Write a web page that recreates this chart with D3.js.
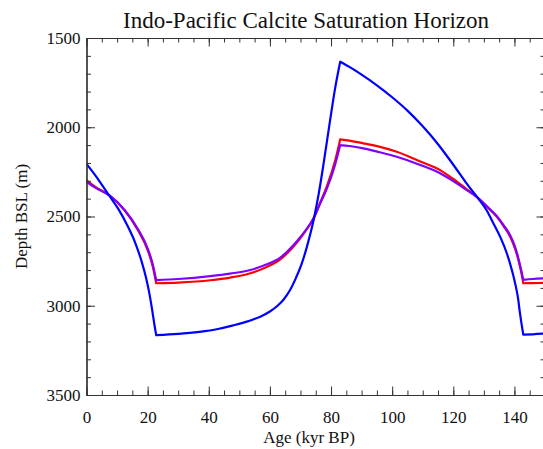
<!DOCTYPE html>
<html><head><meta charset="utf-8">
<script src="https://cdn.jsdelivr.net/npm/d3@7"></script>
<style>body{margin:0;background:#fff}svg{display:block}</style>
</head><body>
<svg id="c" width="543" height="449"></svg>
<script>
const title = "Indo-Pacific Calcite Saturation Horizon";
const xLabel = "Age (kyr BP)";
const yLabel = "Depth BSL (m)";
const xTicks = [0,20,40,60,80,100,120,140];
const yTicks = [1500,2000,2500,3000,3500];

const blueSeries = [[0,2205],[3,2272],[7.5,2385],[10.5,2460],[13.5,2555],[16,2650],[18,2750],[19.5,2845],[20.5,2925],[21.5,3025],[22.3,3115],[22.8,3165],
[30,3158],[37,3146],[43,3130],[48,3110],[53,3086],[57,3060],[60,3032],[62.5,3000],[64.5,2965],[66.5,2915],[68.5,2845],[70.5,2760],[72.5,2645],[74.3,2520],[76,2370],[77.6,2200],[79.7,1960],[81.4,1775],[83,1633],
[86,1662],[90,1705],[95,1765],[100,1832],[105,1907],[110,1995],[115,2095],[120,2210],[125,2330],[128.2,2400],[131,2468],[133.1,2538],[135.5,2620],[137.5,2706],[139,2790],[140.2,2872],[141.2,2960],[141.8,3040],[142.4,3110],[142.9,3162],[146,3160],[150,3156]];

const redSeries = [[0,2298],[3,2335],[7.5,2382],[12.4,2464],[16.8,2576],[20,2688],[21.7,2781],[22.8,2874],
[30,2870],[40.5,2857],[47,2842],[53.6,2818],[58,2790],[63.4,2740],[68.9,2645],[71.5,2585],[74.3,2510],[76.5,2420],[78.6,2333],[81.4,2183],[83,2068],
[86,2075],[90.6,2090],[96,2110],[101.5,2137],[109.2,2192],[115.7,2240],[120,2290],[124,2342],[128.2,2398],[131,2445],[134.2,2501],[136.5,2555],[138.6,2613],[140.2,2680],[141.3,2744],[142.2,2810],[142.9,2874],[146,2873],[150,2872]];

const purpleSeries = [[0,2305],[3,2340],[7.5,2382],[12.4,2462],[16.8,2570],[20,2678],[21.7,2770],[22.8,2856],
[30,2850],[40.5,2834],[47,2820],[53.6,2800],[58,2775],[63.4,2730],[68.9,2637],[71.5,2582],[74.3,2510],[76.5,2425],[78.6,2345],[81.4,2205],[83,2100],
[86,2105],[90.6,2118],[96,2140],[101.5,2165],[109.2,2211],[115.7,2258],[120,2302],[124,2348],[128.2,2398],[131,2443],[134.2,2497],[136.5,2550],[138.6,2605],[140.2,2670],[141.3,2735],[142.2,2800],[142.9,2855],[146,2850],[150,2846]];

// ages where the curves have sharp corners
const cornerAges = [22.8, 83, 142.9];

const seriesList = [
  {data: redSeries, color: "#ff0000"},
  {data: purpleSeries, color: "#8000ff"},
  {data: blueSeries, color: "#0000ff"}
];

const L = 86.5, R = 545, T = 38, B = 395;
const x = d3.scaleLinear().domain([0,150]).range([L,R]);
const y = d3.scaleLinear().domain([1500,3500]).range([T,B]);
const svg = d3.select("#c");
const font = "'Liberation Serif','Times New Roman',serif";

svg.append("clipPath").attr("id","clp").append("rect")
  .attr("x",L).attr("y",T).attr("width",R-L).attr("height",B-T);

const line = d3.line().x(d=>x(d[0])).y(d=>y(d[1])).curve(d3.curveMonotoneX);
const g = svg.append("g").attr("clip-path","url(#clp)");
function splitAtCorners(data){
  const segs = [];
  let cur = [];
  data.forEach(p=>{
    cur.push(p);
    if (cornerAges.includes(p[0])) { segs.push(cur); cur = [p]; }
  });
  if (cur.length > 1) segs.push(cur);
  return segs;
}
seriesList.forEach(s=>{
  const d = splitAtCorners(s.data).map(seg=>line(seg)).join("");
  g.append("path").attr("d",d).attr("fill","none")
   .attr("stroke",s.color).attr("stroke-width",2.2)
   .attr("stroke-linecap","round").attr("stroke-linejoin","round");
});

const xMinor = d3.range(0,151,5);
const yMinor = d3.range(1500,3501,100);
const axisColor = "#333";
function styleAxis(sel){
  sel.select(".domain").attr("stroke",axisColor).attr("stroke-width",1.2);
  sel.selectAll(".tick line").attr("stroke",axisColor);
  sel.selectAll("text").attr("font-family",font).attr("font-size",17).attr("fill","#111");
}
svg.append("g").attr("transform",`translate(0,${B})`)
  .call(d3.axisBottom(x).tickValues(xMinor).tickSize(-4.5).tickSizeOuter(0).tickFormat("")).call(styleAxis);
svg.append("g").attr("transform",`translate(0,${B})`)
  .call(d3.axisBottom(x).tickValues(xTicks).tickSize(-8.5).tickSizeOuter(0).tickPadding(16).tickFormat(d3.format("d"))).call(styleAxis);
svg.append("g").attr("transform",`translate(0,${T})`)
  .call(d3.axisTop(x).tickValues(xMinor).tickSize(-4.5).tickSizeOuter(0).tickFormat("")).call(styleAxis);
svg.append("g").attr("transform",`translate(0,${T})`)
  .call(d3.axisTop(x).tickValues(xTicks).tickSize(-8.5).tickSizeOuter(0).tickFormat("")).call(styleAxis);
svg.append("g").attr("transform",`translate(${L},0)`)
  .call(d3.axisLeft(y).tickValues(yMinor).tickSize(-4.5).tickSizeOuter(0).tickFormat("")).call(styleAxis);
svg.append("g").attr("transform",`translate(${L},0)`)
  .call(d3.axisLeft(y).tickValues(yTicks).tickSize(-8.5).tickSizeOuter(0).tickPadding(6).tickFormat(d3.format("d"))).call(styleAxis);
svg.append("g").attr("transform",`translate(${R},0)`)
  .call(d3.axisRight(y).tickValues(yMinor).tickSize(-4.5).tickSizeOuter(0).tickFormat("")).call(styleAxis);
svg.append("g").attr("transform",`translate(${R},0)`)
  .call(d3.axisRight(y).tickValues(yTicks).tickSize(-8.5).tickSizeOuter(0).tickFormat("")).call(styleAxis);

svg.append("text").attr("x",306).attr("y",28).attr("text-anchor","middle")
  .attr("font-family",font).attr("font-size",23).attr("fill","#111").text(title);
svg.append("text").attr("x",309).attr("y",443).attr("text-anchor","middle")
  .attr("font-family",font).attr("font-size",17).attr("fill","#111").text(xLabel);
svg.append("text").attr("transform",`translate(27,${(T+B)/2}) rotate(-90)`).attr("text-anchor","middle")
  .attr("font-family",font).attr("font-size",17).attr("fill","#111").text(yLabel);
</script>
</body></html>
